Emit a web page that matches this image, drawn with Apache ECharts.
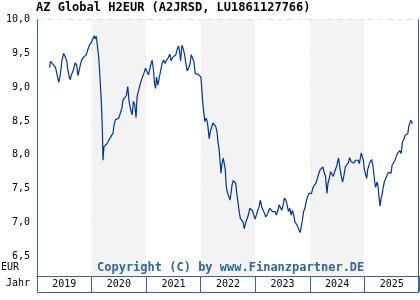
<!DOCTYPE html>
<html>
<head>
<meta charset="utf-8">
<script src="https://cdn.jsdelivr.net/npm/echarts@6/dist/echarts.min.js"></script>
<style>
html, body { margin: 0; padding: 0; background: #fff; }
#chart { width: 420px; height: 300px; }
</style>
</head>
<body>
<div id="chart"></div>
<script>
// Jahre fuer die Beschriftungszeile
var years = ['2019', '2020', '2021', '2022', '2023', '2024', '2025'];
var yTicks = [6.5, 10];

// Datum als Dezimaljahr, Kurs in EUR
var dates = [
    2019.230, 2019.248, 2019.272, 2019.303, 2019.340, 2019.364, 2019.382, 2019.401, 2019.419, 2019.437,
    2019.456, 2019.487, 2019.511, 2019.529, 2019.547, 2019.566, 2019.592, 2019.610, 2019.628, 2019.658,
    2019.683, 2019.702, 2019.726, 2019.750, 2019.768, 2019.794, 2019.818, 2019.849, 2019.878, 2019.904,
    2019.933, 2019.965, 2019.996, 2020.025, 2020.051, 2020.069, 2020.088, 2020.106, 2020.130, 2020.154,
    2020.180, 2020.198, 2020.209, 2020.227, 2020.253, 2020.277, 2020.301, 2020.332, 2020.363, 2020.393,
    2020.411, 2020.437, 2020.466, 2020.497, 2020.529, 2020.556, 2020.576, 2020.608, 2020.639, 2020.663,
    2020.687, 2020.718, 2020.742, 2020.767, 2020.791, 2020.815, 2020.834, 2020.865, 2020.896, 2020.925,
    2020.957, 2020.988, 2021.017, 2021.043, 2021.067, 2021.085, 2021.109, 2021.135, 2021.153, 2021.172,
    2021.190, 2021.214, 2021.238, 2021.263, 2021.293, 2021.319, 2021.348, 2021.374, 2021.403, 2021.434,
    2021.458, 2021.484, 2021.513, 2021.545, 2021.568, 2021.594, 2021.613, 2021.631, 2021.655, 2021.679,
    2021.704, 2021.728, 2021.752, 2021.778, 2021.802, 2021.826, 2021.851, 2021.875, 2021.899, 2021.925,
    2021.954, 2021.980, 2022.004, 2022.017, 2022.035, 2022.059, 2022.077, 2022.096, 2022.114, 2022.132,
    2022.156, 2022.175, 2022.200, 2022.224, 2022.248, 2022.274, 2022.298, 2022.316, 2022.335, 2022.353,
    2022.371, 2022.390, 2022.414, 2022.432, 2022.450, 2022.469, 2022.487, 2022.513, 2022.537, 2022.555,
    2022.573, 2022.597, 2022.623, 2022.641, 2022.660, 2022.678, 2022.702, 2022.726, 2022.751, 2022.775,
    2022.799, 2022.825, 2022.849, 2022.873, 2022.898, 2022.922, 2022.946, 2022.972, 2022.996, 2023.020,
    2023.046, 2023.069, 2023.093, 2023.119, 2023.143, 2023.167, 2023.193, 2023.216, 2023.240, 2023.266,
    2023.290, 2023.314, 2023.339, 2023.363, 2023.387, 2023.413, 2023.437, 2023.461, 2023.486, 2023.510,
    2023.534, 2023.560, 2023.584, 2023.608, 2023.633, 2023.657, 2023.681, 2023.707, 2023.725, 2023.749,
    2023.773, 2023.799, 2023.823, 2023.847, 2023.865, 2023.883, 2023.909, 2023.933, 2023.957, 2023.983,
    2024.006, 2024.030, 2024.056, 2024.080, 2024.111, 2024.141, 2024.166, 2024.190, 2024.214, 2024.240,
    2024.264, 2024.288, 2024.313, 2024.332, 2024.356, 2024.379, 2024.405, 2024.429, 2024.453, 2024.478,
    2024.502, 2024.526, 2024.552, 2024.576, 2024.600, 2024.626, 2024.649, 2024.681, 2024.705, 2024.729,
    2024.754, 2024.784, 2024.809, 2024.833, 2024.857, 2024.883, 2024.906, 2024.925, 2024.943, 2024.961,
    2024.980, 2024.998, 2025.022, 2025.041, 2025.059, 2025.085, 2025.109, 2025.133, 2025.151, 2025.169,
    2025.188, 2025.206, 2025.232, 2025.250, 2025.268, 2025.287, 2025.305, 2025.324, 2025.342, 2025.366,
    2025.390, 2025.416, 2025.440, 2025.463, 2025.489, 2025.507, 2025.531, 2025.555, 2025.581, 2025.605,
    2025.629, 2025.647, 2025.673, 2025.697, 2025.721, 2025.746, 2025.770, 2025.794, 2025.813, 2025.831,
    2025.849, 2025.862, 2025.880
];
var prices = [
    9.29, 9.38, 9.37, 9.33, 9.29, 9.20, 9.13, 9.07, 9.15, 9.25,
    9.39, 9.50, 9.46, 9.45, 9.38, 9.25, 9.15, 9.11, 9.18, 9.23,
    9.31, 9.36, 9.33, 9.17, 9.23, 9.33, 9.40, 9.44, 9.44, 9.48,
    9.56, 9.63, 9.66, 9.72, 9.76, 9.71, 9.75, 9.62, 9.45, 9.15,
    8.76, 8.37, 7.92, 8.12, 8.10, 8.16, 8.19, 8.24, 8.24, 8.32,
    8.44, 8.52, 8.50, 8.54, 8.55, 8.69, 8.81, 8.84, 8.88, 9.01,
    8.79, 8.66, 8.59, 8.79, 8.74, 8.55, 8.86, 8.96, 9.06, 9.13,
    9.20, 9.28, 9.29, 9.18, 9.20, 9.33, 9.40, 9.25, 9.06, 8.98,
    9.15, 9.03, 9.13, 9.23, 9.35, 9.40, 9.35, 9.40, 9.43, 9.49,
    9.39, 9.44, 9.45, 9.48, 9.56, 9.61, 9.52, 9.39, 9.62, 9.57,
    9.48, 9.35, 9.24, 9.23, 9.33, 9.48, 9.49, 9.38, 9.20, 9.21,
    9.19, 9.18, 9.15, 9.01, 8.79, 8.61, 8.49, 8.54, 8.51, 8.42,
    8.24, 8.34, 8.34, 8.47, 8.48, 8.42, 8.34, 8.19, 8.10, 7.92,
    7.73, 7.87, 7.95, 7.97, 7.78, 7.53, 7.45, 7.44, 7.33, 7.43,
    7.55, 7.62, 7.64, 7.58, 7.43, 7.33, 7.18, 7.06, 7.06, 7.01,
    6.91, 7.00, 7.01, 7.11, 7.21, 7.23, 7.18, 7.11, 7.05, 7.05,
    7.18, 7.23, 7.33, 7.23, 7.18, 7.14, 7.08, 7.11, 7.16, 7.21,
    7.22, 7.16, 7.18, 7.16, 7.11, 7.18, 7.26, 7.24, 7.18, 7.26,
    7.36, 7.33, 7.26, 7.16, 7.21, 7.11, 7.18, 7.10, 7.01, 6.99,
    6.95, 6.95, 6.85, 6.96, 7.04, 7.16, 7.21, 7.31, 7.38, 7.43,
    7.41, 7.43, 7.51, 7.55, 7.58, 7.59, 7.73, 7.78, 7.80, 7.82,
    7.73, 7.68, 7.43, 7.58, 7.65, 7.75, 7.73, 7.68, 7.75, 7.80,
    7.87, 7.95, 7.80, 7.68, 7.60, 7.70, 7.82, 7.81, 7.88, 7.96,
    7.90, 7.92, 7.88, 7.92, 7.90, 7.92, 7.87, 7.95, 8.03, 8.05,
    7.92, 7.79, 7.78, 7.65, 7.78, 7.85, 7.90, 7.93, 7.86, 7.75,
    7.60, 7.52, 7.60, 7.53, 7.37, 7.24, 7.36, 7.41, 7.51, 7.60,
    7.65, 7.70, 7.74, 7.75, 7.73, 7.85, 7.87, 7.91, 7.97, 8.02,
    8.00, 8.06, 8.02, 8.19, 8.23, 8.29, 8.27, 8.31, 8.42, 8.44,
    8.51, 8.52, 8.46
];

var frameColor = '#336699';
var mono = 'DejaVu Sans Mono';

var seriesData = dates.map(function (d, i) { return [d, prices[i]]; });

var dom = echarts.init(document.getElementById('chart'));

var option = {
    backgroundColor: '#ffffff',
    animation: false,
    title: {
        text: 'AZ Global H2EUR (A2JRSD, LU1861127766)',
        left: 36,
        top: 2,
        padding: 0,
        textStyle: {
            fontFamily: mono,
            fontSize: 12,
            fontWeight: 'bold',
            color: '#000'
        }
    },
    grid: [
        // Hintergrund mit Jahresbaendern und Jahreszeile
        { left: 37, top: 19.5, width: 382, height: 256.5 },
        // Kursbereich 6,5 bis 10,0
        { left: 37, top: 19.5, width: 382, height: 236.8 }
    ],
    xAxis: [{
        gridIndex: 0,
        type: 'category',
        data: years,
        boundaryGap: true,
        axisLine: { show: true, lineStyle: { color: frameColor, width: 1 } },
        axisTick: { show: true, length: 16, lineStyle: { color: frameColor, width: 1 } },
        axisLabel: {
            margin: 3,
            fontFamily: mono,
            fontSize: 10,
            color: '#000'
        },
        splitLine: { show: false },
        splitArea: {
            show: true,
            areaStyle: { color: ['#ffffff', '#f3f3f3'] }
        }
    }, {
        gridIndex: 1,
        type: 'value',
        min: 2019,
        max: 2026,
        show: false
    }],
    yAxis: [{
        gridIndex: 0,
        type: 'value',
        min: 0,
        max: 1,
        show: false
    }, {
        gridIndex: 1,
        type: 'value',
        min: yTicks[0],
        max: yTicks[1],
        interval: 0.5,
        axisLine: { show: false },
        axisTick: { show: false },
        axisLabel: {
            margin: 7,
            fontFamily: mono,
            fontSize: 10,
            color: '#000',
            formatter: function (v) { return v.toFixed(1).replace('.', ','); }
        },
        splitLine: {
            show: true,
            lineStyle: { color: '#c8c8c8', type: [6, 4], width: 1 }
        }
    }],
    graphic: [{
        type: 'polyline',
        z: 100,
        shape: { points: [[37.5, 19.5], [37.5, 292.5], [418.5, 292.5], [418.5, 19.5]] },
        style: { fill: null, stroke: frameColor, lineWidth: 1 }
    }, {
        type: 'text',
        left: 97,
        top: 262,
        z: 100,
        style: {
            text: 'Copyright (C) by www.Finanzpartner.DE',
            font: 'bold 12px "DejaVu Sans Mono"',
            fill: frameColor
        }
    }, {
        type: 'text',
        left: 1,
        top: 262,
        style: { text: 'EUR', font: '10px "DejaVu Sans Mono"', fill: '#000' }
    }, {
        type: 'text',
        left: 6,
        top: 278,
        style: { text: 'Jahr', font: '10px "DejaVu Sans Mono"', fill: '#000' }
    }],
    series: [{
        name: 'AZ Global H2EUR',
        type: 'line',
        xAxisIndex: 1,
        yAxisIndex: 1,
        data: seriesData,
        showSymbol: false,
        smooth: false,
        lineStyle: { color: '#003399', width: 1.2 },
        z: 5
    }]
};

dom.setOption(option);
</script>
</body>
</html>
